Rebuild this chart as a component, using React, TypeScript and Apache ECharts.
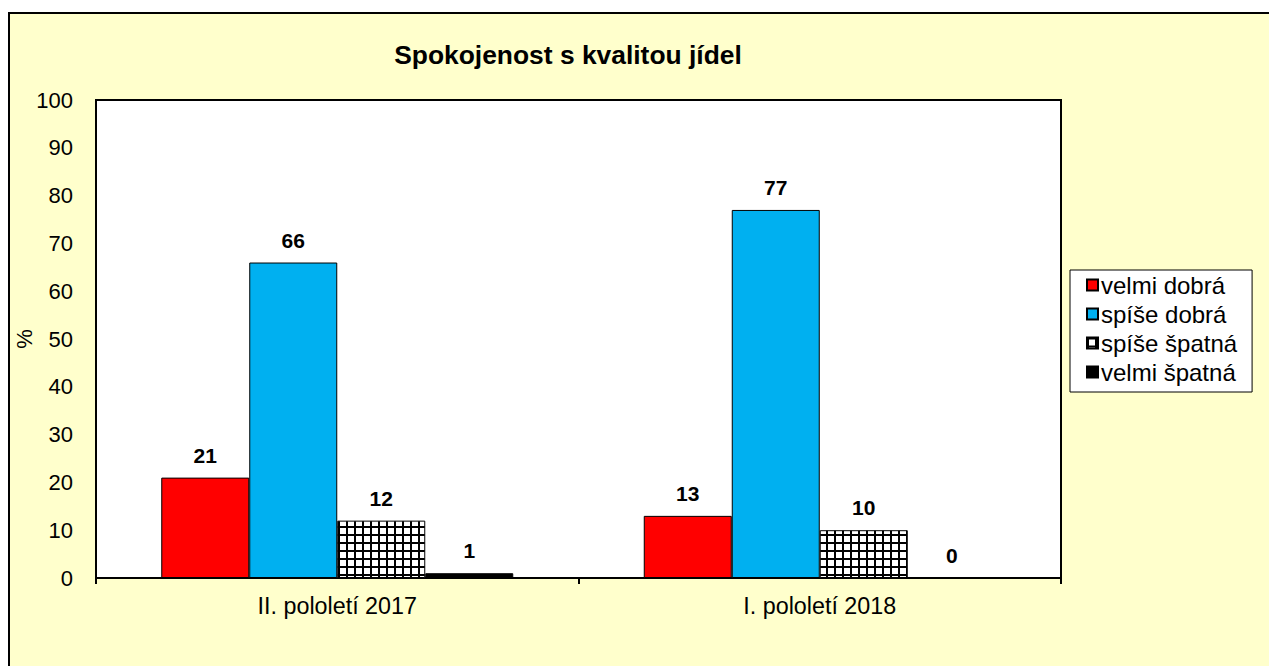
import React, { useEffect, useRef } from "react";
import * as echarts from "echarts";

const categories = ["II. pololetí 2017", "I. pololetí 2018"];
const seriesNames = ["velmi dobrá", "spíše dobrá", "spíše špatná", "velmi špatná"];
const velmiDobra = [21, 13];
const spiseDobra = [66, 77];
const spiseSpatna = [12, 10];
const velmiSpatna = [1, 0];
const yTicks = { min: 0, max: 100, interval: 10 };

const FONT = "'Liberation Sans', Arial, sans-serif";

function makeHatch(): HTMLCanvasElement {
  const c = document.createElement("canvas");
  c.width = 8;
  c.height = 8;
  const ctx = c.getContext("2d")!;
  ctx.fillStyle = "#000";
  ctx.fillRect(0, 0, 8, 8);
  ctx.fillStyle = "#fff";
  ctx.fillRect(2, 2, 6, 6);
  return c;
}

export default function App() {
  const ref = useRef<HTMLDivElement>(null);
  useEffect(() => {
    if (!ref.current) return;
    const chart = echarts.init(ref.current, undefined, { renderer: "svg" });
    const hatch = makeHatch();
    const label = {
      show: true,
      position: "top" as const,
      distance: 12,
      fontFamily: FONT,
      fontSize: 21,
      fontWeight: "bold" as const,
      color: "#000",
    };
    const mk = (name: string, data: number[], color: any) => ({
      name,
      type: "bar" as const,
      data,
      barWidth: 88,
      barGap: "0%",
      itemStyle: { color, borderColor: "#000", borderWidth: 1 },
      label,
    });
    chart.setOption({
      animation: false,
      backgroundColor: "transparent",
      title: {
        text: "Spokojenost s kvalitou jídel",
        left: 558,
        top: 28,
        textAlign: "center",
        padding: 0,
        textStyle: { fontFamily: FONT, fontSize: 26.4, fontWeight: "bold", color: "#000" },
      },
      legend: {
        orient: "vertical",
        left: 1060,
        top: 256,
        padding: [3, 15, 8, 16],
        itemGap: 5,
        itemWidth: 11,
        itemHeight: 11,
        borderColor: "#000",
        borderWidth: 1,
        backgroundColor: "#fff",
        icon: "rect",
        data: seriesNames,
        textStyle: { fontFamily: FONT, fontSize: 24, color: "#000", padding: [0, 0, 0, -2] },
      },
      grid: {
        left: 86,
        top: 86,
        width: 965,
        height: 478,
        show: true,
        backgroundColor: "#fff",
        borderColor: "#000",
        borderWidth: 2,
        containLabel: false,
        outerBoundsMode: "none",
      },
      xAxis: {
        type: "category",
        data: categories,
        axisLine: { lineStyle: { color: "#000", width: 2 } },
        axisTick: { show: true, length: 6, lineStyle: { color: "#000", width: 2 } },
        axisLabel: { fontFamily: FONT, fontSize: 23.3, color: "#000", margin: 16 },
      },
      yAxis: {
        type: "value",
        min: yTicks.min,
        max: yTicks.max,
        interval: yTicks.interval,
        name: "%",
        nameLocation: "middle",
        nameRotate: 90,
        nameGap: 61,
        nameMoveOverlap: false,
        nameTextStyle: { fontFamily: FONT, fontSize: 22, color: "#000" },
        axisLine: { show: true, lineStyle: { color: "#000", width: 2 } },
        axisTick: { show: false },
        splitLine: { show: false },
        axisLabel: { fontFamily: FONT, fontSize: 22, color: "#000", margin: 23 },
      },
      series: [
        mk(seriesNames[0], velmiDobra, "#FF0000"),
        mk(seriesNames[1], spiseDobra, "#00B0F0"),
        mk(seriesNames[2], spiseSpatna, { image: hatch, repeat: "repeat" }),
        mk(seriesNames[3], velmiSpatna, "#000000"),
      ],
    });
    return () => chart.dispose();
  }, []);

  return (
    <div
      style={{
        position: "fixed",
        left: 0,
        top: 0,
        width: 1269,
        height: 666,
        overflow: "hidden",
        background: "#fff",
      }}
    >
      <div
        style={{
          position: "absolute",
          left: 8,
          top: 12,
          width: 1300,
          height: 700,
          border: "2px solid #000",
          background: "#FFFFCC",
        }}
      >
        <div ref={ref} style={{ width: 1296, height: 696 }} />
      </div>
    </div>
  );
}
